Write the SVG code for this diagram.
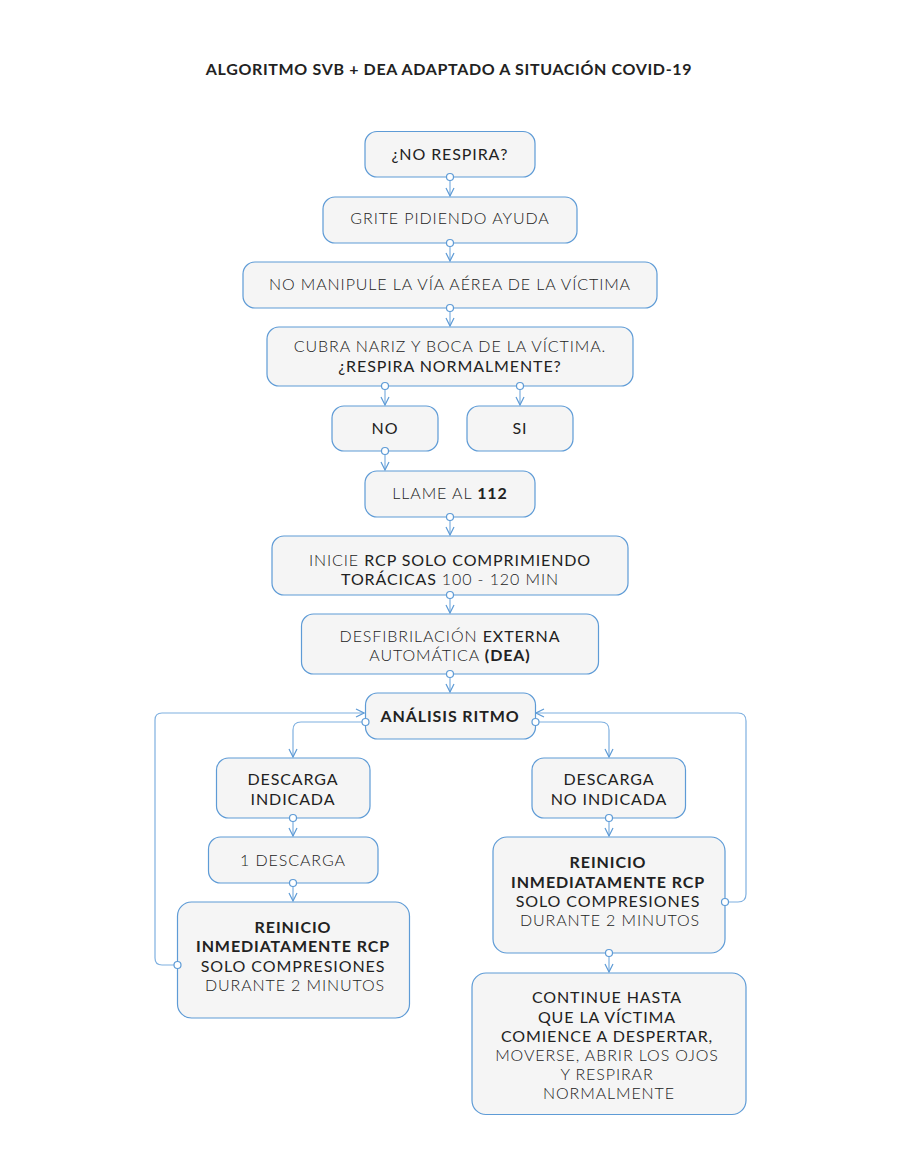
<svg xmlns="http://www.w3.org/2000/svg" width="900" height="1158" viewBox="0 0 900 1158">
<style>
.bx{fill:#f5f5f5;stroke:#5e9bd6;stroke-width:1.2}
.t{font-family:Lato,"Open Sans","Liberation Sans",sans-serif;font-size:16px;fill:#222;text-anchor:middle;font-weight:400;letter-spacing:0.9px}
.l{font-weight:300}
.m{font-weight:400}
.b{font-weight:700}
.c{fill:none;stroke:#7fb0e0;stroke-width:1.2}
.dot{fill:#fff;stroke:#5e9bd6;stroke-width:1.2}
</style>
<defs>
<marker id="ar" viewBox="0 0 10 10" refX="9" refY="5" markerWidth="10" markerHeight="10" markerUnits="userSpaceOnUse" orient="auto">
<path d="M1,1 L9,5 L1,9" fill="none" stroke="#5e9bd6" stroke-width="1.2"/>
</marker>
</defs>
<rect width="900" height="1158" fill="#fff"/>
<text x="449" y="75" class="t b" style="font-size:16px;letter-spacing:0.65px">ALGORITMO SVB + DEA ADAPTADO A SITUACIÓN COVID-19</text>

<g id="connectors">
<path class="c" d="M450,177 V196" marker-end="url(#ar)"/>
<path class="c" d="M450,243 V261" marker-end="url(#ar)"/>
<path class="c" d="M450,308 V326" marker-end="url(#ar)"/>
<path class="c" d="M385,386 V405" marker-end="url(#ar)"/>
<path class="c" d="M520,386 V405" marker-end="url(#ar)"/>
<path class="c" d="M385,451 V470" marker-end="url(#ar)"/>
<path class="c" d="M450,517 V535" marker-end="url(#ar)"/>
<path class="c" d="M450,595 V613" marker-end="url(#ar)"/>
<path class="c" d="M450,674 V692" marker-end="url(#ar)"/>
<path class="c" d="M365,722 H301 Q293,722 293,730 V757" marker-end="url(#ar)"/>
<path class="c" d="M535,722 H601 Q609,722 609,730 V757" marker-end="url(#ar)"/>
<path class="c" d="M293,818 V836" marker-end="url(#ar)"/>
<path class="c" d="M293,883 V901" marker-end="url(#ar)"/>
<path class="c" d="M609,818 V836" marker-end="url(#ar)"/>
<path class="c" d="M609,953 V972" marker-end="url(#ar)"/>
<path class="c" d="M178,965 H162 Q155,965 155,958 V720 Q155,713 162,713 H364" marker-end="url(#ar)"/>
<path class="c" d="M725,902 H738 Q746,902 746,894 V721 Q746,713 738,713 H536" marker-end="url(#ar)"/>
</g>

<g id="n1"><rect class="bx" x="365" y="131.5" width="170" height="45.5" rx="12"/>
<text class="t m" x="450" y="160">¿NO RESPIRA?</text></g>
<g id="n2"><rect class="bx" x="323" y="197" width="254" height="46" rx="12"/>
<text class="t l" x="450" y="224">GRITE PIDIENDO AYUDA</text></g>
<g id="n3"><rect class="bx" x="243" y="262" width="414" height="46" rx="12"/>
<text class="t l" x="450" y="290">NO MANIPULE LA VÍA AÉREA DE LA VÍCTIMA</text></g>
<g id="n4"><rect class="bx" x="267" y="327" width="366" height="59" rx="12"/>
<text class="t l" x="450" y="352">CUBRA NARIZ Y BOCA DE LA VÍCTIMA.</text>
<text class="t m" x="450" y="372">¿RESPIRA NORMALMENTE?</text></g>
<g id="n5"><rect class="bx" x="332" y="406" width="106" height="45" rx="12"/>
<text class="t m" x="385" y="434">NO</text></g>
<g id="n6"><rect class="bx" x="467" y="406" width="106" height="45" rx="12"/>
<text class="t m" x="520" y="434">SI</text></g>
<g id="n7"><rect class="bx" x="365" y="471" width="170" height="46" rx="12"/>
<text class="t l" x="450" y="499">LLAME AL <tspan class="b">112</tspan></text></g>
<g id="n8"><rect class="bx" x="272" y="536" width="356" height="59" rx="12"/>
<text class="t l" x="450" y="566">INICIE <tspan class="m">RCP SOLO COMPRIMIENDO</tspan></text>
<text class="t m" x="450" y="585">TORÁCICAS <tspan class="l">100 - 120 MIN</tspan></text></g>
<g id="n9"><rect class="bx" x="301.5" y="614" width="297" height="60" rx="12"/>
<text class="t l" x="450" y="642">DESFIBRILACIÓN <tspan class="m">EXTERNA</tspan></text>
<text class="t l" x="450" y="661">AUTOMÁTICA <tspan class="b">(DEA)</tspan></text></g>
<g id="n10"><rect class="bx" x="365.5" y="693" width="170" height="46" rx="12"/>
<text class="t b" x="450" y="722">ANÁLISIS RITMO</text></g>
<g id="n11"><rect class="bx" x="216.5" y="758" width="153.5" height="60" rx="12"/>
<text class="t m" x="293" y="785">DESCARGA</text>
<text class="t m" x="293" y="805">INDICADA</text></g>
<g id="n12"><rect class="bx" x="532" y="758" width="153.5" height="60" rx="12"/>
<text class="t m" x="609" y="785">DESCARGA</text>
<text class="t m" x="609" y="805">NO INDICADA</text></g>
<g id="n13"><rect class="bx" x="208.5" y="837" width="169.5" height="46" rx="12"/>
<text class="t l" x="293" y="866">1 DESCARGA</text></g>
<g id="n14"><rect class="bx" x="177.5" y="902" width="232" height="116" rx="14"/>
<text class="t b" x="293" y="933">REINICIO</text>
<text class="t b" x="293" y="952">INMEDIATAMENTE RCP</text>
<text class="t m" x="293" y="972">SOLO COMPRESIONES</text>
<text class="t l" x="295" y="991">DURANTE 2 MINUTOS</text></g>
<g id="n15"><rect class="bx" x="493" y="837" width="232" height="116" rx="14"/>
<text class="t b" x="608" y="868">REINICIO</text>
<text class="t b" x="608" y="888">INMEDIATAMENTE RCP</text>
<text class="t m" x="608" y="907">SOLO COMPRESIONES</text>
<text class="t l" x="610" y="926">DURANTE 2 MINUTOS</text></g>
<g id="n16"><rect class="bx" x="472" y="973" width="274" height="141.5" rx="14"/>
<text class="t m" x="607" y="1003">CONTINUE HASTA</text>
<text class="t m" x="607" y="1023">QUE LA VÍCTIMA</text>
<text class="t m" x="607" y="1042">COMIENCE A DESPERTAR,</text>
<text class="t l" x="607" y="1061">MOVERSE, ABRIR LOS OJOS</text>
<text class="t l" x="607" y="1080">Y RESPIRAR</text>
<text class="t l" x="609" y="1099">NORMALMENTE</text></g>

<g id="dots">
<circle class="dot" cx="450" cy="177" r="3.5"/>
<circle class="dot" cx="450" cy="243" r="3.5"/>
<circle class="dot" cx="450" cy="308" r="3.5"/>
<circle class="dot" cx="385" cy="386" r="3.5"/>
<circle class="dot" cx="520" cy="386" r="3.5"/>
<circle class="dot" cx="385" cy="451" r="3.5"/>
<circle class="dot" cx="450" cy="517" r="3.5"/>
<circle class="dot" cx="450" cy="595" r="3.5"/>
<circle class="dot" cx="450" cy="674" r="3.5"/>
<circle class="dot" cx="365.5" cy="722" r="3.5"/>
<circle class="dot" cx="535.5" cy="722" r="3.5"/>
<circle class="dot" cx="293" cy="818" r="3.5"/>
<circle class="dot" cx="293" cy="883" r="3.5"/>
<circle class="dot" cx="609" cy="818" r="3.5"/>
<circle class="dot" cx="609" cy="953" r="3.5"/>
<circle class="dot" cx="177.5" cy="965" r="3.5"/>
<circle class="dot" cx="725" cy="902" r="3.5"/>
</g>
</svg>
